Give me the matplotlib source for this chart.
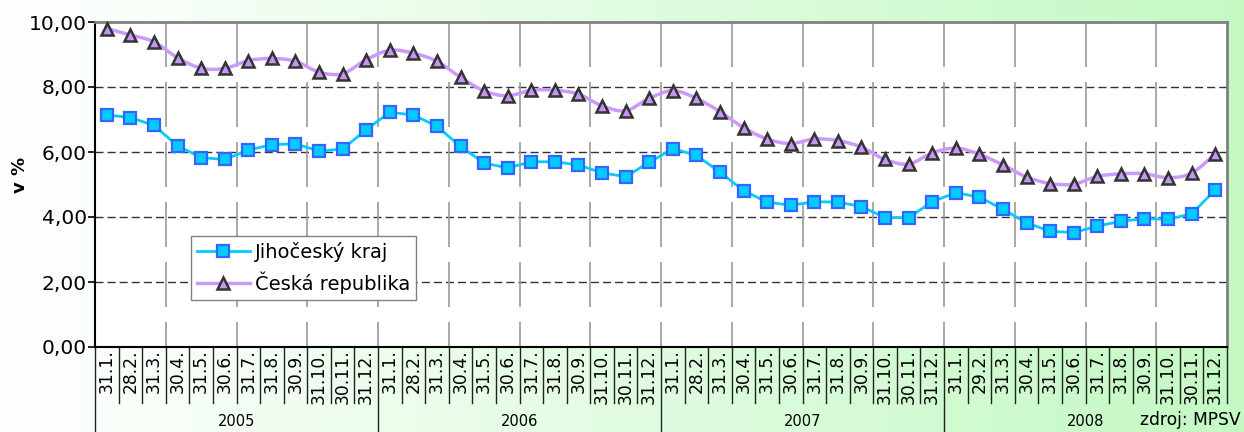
import numpy as np
import matplotlib
matplotlib.use("Agg")
import matplotlib.pyplot as plt
from matplotlib.path import Path
from matplotlib.patches import PathPatch
from matplotlib.lines import Line2D
import matplotlib.colors as mcolors

plt.rcParams['font.family'] = ['DejaVu Sans']

# ---------------- data ----------------
years = ["2005", "2006", "2007", "2008"]
month_labels = [
    "31.1.", "28.2.", "31.3.", "30.4.", "31.5.", "30.6.", "31.7.", "31.8.", "30.9.", "31.10.", "30.11.", "31.12.",
    "31.1.", "28.2.", "31.3.", "30.4.", "31.5.", "30.6.", "31.7.", "31.8.", "30.9.", "31.10.", "30.11.", "31.12.",
    "31.1.", "28.2.", "31.3.", "30.4.", "31.5.", "30.6.", "31.7.", "31.8.", "30.9.", "31.10.", "30.11.", "31.12.",
    "31.1.", "29.2.", "31.3.", "30.4.", "31.5.", "30.6.", "31.7.", "31.8.", "30.9.", "31.10.", "30.11.", "31.12.",
]
jihocesky = [
    7.14, 7.06, 6.82, 6.19, 5.83, 5.77, 6.06, 6.23, 6.25, 6.03, 6.09, 6.69,
    7.22, 7.14, 6.79, 6.17, 5.66, 5.51, 5.70, 5.70, 5.60, 5.36, 5.24, 5.68,
    6.10, 5.90, 5.38, 4.81, 4.46, 4.36, 4.47, 4.46, 4.32, 3.98, 3.98, 4.47,
    4.75, 4.61, 4.24, 3.82, 3.56, 3.52, 3.72, 3.87, 3.95, 3.93, 4.10, 4.83,
]
cr = [
    9.80, 9.60, 9.39, 8.90, 8.58, 8.57, 8.81, 8.88, 8.79, 8.46, 8.41, 8.84,
    9.13, 9.04, 8.79, 8.30, 7.88, 7.73, 7.90, 7.90, 7.78, 7.42, 7.27, 7.65,
    7.89, 7.65, 7.24, 6.75, 6.40, 6.26, 6.40, 6.35, 6.15, 5.77, 5.63, 5.97,
    6.12, 5.93, 5.60, 5.23, 5.03, 5.01, 5.25, 5.33, 5.33, 5.21, 5.35, 5.94,
]
series_names = ["Jihočeský kraj", "Česká republika"]
y_ticks = [0, 2, 4, 6, 8, 10]
y_tick_labels = ["0,00", "2,00", "4,00", "6,00", "8,00", "10,00"]

# ---------------- figure ----------------
W, H = 1244, 432
fig = plt.figure(figsize=(W / 100, H / 100), dpi=100)

# background gradient
bg = fig.add_axes([0, 0, 1, 1], zorder=-10)
bg.set_axis_off()
c0 = np.array(mcolors.to_rgb("#ffffff"))
c1 = np.array(mcolors.to_rgb("#c4f9c4"))
t = np.linspace(0, 1, 512)[None, :, None]
grad = c0 + (c1 - c0) * t
bg.imshow(grad, aspect="auto", extent=[0, 1, 0, 1], interpolation="bilinear")

L, R, T, B = 95, 1227, 22, 347
ax = fig.add_axes([L / W, (H - B) / H, (R - L) / W, (B - T) / H])
ax.set_facecolor("white")
n = len(month_labels)
x = np.arange(n) + 0.5
ax.set_xlim(0, n)
ax.set_ylim(0, 10)

# grid
for yv in y_ticks[1:-1]:
    ax.plot([0, n], [yv, yv], color="#333333", lw=1.0, dashes=(5.8, 2.9), zorder=1)
for xv in range(3, n, 3):
    ax.plot([xv, xv], [10, 0], color="#999999", lw=1.2, dashes=(27, 9), zorder=1)

# spines
for s in ["left", "bottom"]:
    ax.spines[s].set_color("black")
    ax.spines[s].set_linewidth(1.5)
for s in ["top", "right"]:
    ax.spines[s].set_color("#808080")
    ax.spines[s].set_linewidth(2)

# y axis
ax.set_yticks(y_ticks)
ax.set_yticklabels(y_tick_labels, fontsize=14.5)
ax.tick_params(axis="y", direction="out", length=5, width=1.2, pad=1, color="black")
fig.text(20 / W, 1 - 175 / H, "v %", rotation=90, fontsize=13, fontweight="bold",
         ha="center", va="center")

# x axis labels
ax.set_xticks(x)
ax.set_xticklabels(month_labels, rotation=90, fontsize=12.3)
ax.tick_params(axis="x", length=0, pad=1.5)

tr = ax.get_xaxis_transform()
h_cell = -(403 - B) / (B - T)
h_full = -(H - B) / (B - T)
for xv in range(0, n + 1):
    if xv % 12 == 0 and xv < n:
        ax.plot([xv, xv], [0, h_full], transform=tr, color="#222222", lw=1, clip_on=False)
    else:
        ax.plot([xv, xv], [0, h_cell], transform=tr, color="#222222", lw=1, clip_on=False)
y_year = -(421 - B) / (B - T)
for i, yr in enumerate(years):
    ax.text(12 * i + 6, y_year, yr, transform=tr, ha="center", va="center", fontsize=10.5)
fig.text(1241 / W, 1 - 420 / H, "zdroj: MPSV", ha="right", va="center", fontsize=12.3)

# Jihočeský kraj
jc_color = "#00ccff"
ax.plot(x, jihocesky, color=jc_color, lw=2, marker="s", ms=9, mfc=jc_color,
        mec="#3366ff", mew=1.6, zorder=5, clip_on=False)

# Česká republika: smoothed curve (Catmull-Rom -> cubic Bezier)
cr_line = "#cc99ff"
cr_face = "#c597f5"
P = np.column_stack([x, cr])
verts = [P[0]]
codes = [Path.MOVETO]
for i in range(n - 1):
    p0 = P[i - 1] if i > 0 else P[i]
    p1 = P[i]
    p2 = P[i + 1]
    p3 = P[i + 2] if i + 2 < n else P[i + 1]
    verts += [p1 + (p2 - p0) / 6.0, p2 - (p3 - p1) / 6.0, p2]
    codes += [Path.CURVE4] * 3
ax.add_patch(PathPatch(Path(verts, codes), facecolor="none", edgecolor=cr_line,
                       lw=2.5, zorder=4))
ax.plot(x, cr, ls="none", marker="^", ms=9, mfc=cr_face, mec="#333333", mew=1.8,
        zorder=6, clip_on=False)

# legend
handles = [
    Line2D([], [], color=jc_color, lw=2, marker="s", ms=9, mfc=jc_color, mec="#3366ff", mew=1.6),
    Line2D([], [], color=cr_line, lw=2.5, marker="^", ms=9, mfc=cr_face, mec="#333333", mew=1.8),
]
leg = ax.legend(handles, series_names, loc="upper left",
                bbox_to_anchor=((191 - L) / (R - L), (B - 236) / (B - T)),
                borderaxespad=0, fontsize=14, frameon=True, fancybox=False,
                framealpha=1, edgecolor="#808080", handlelength=2.7,
                handletextpad=0.26, borderpad=0.32, labelspacing=0.48)
leg.get_frame().set_linewidth(1)
leg.set_zorder(10)

fig.savefig("out.png", dpi=100)
